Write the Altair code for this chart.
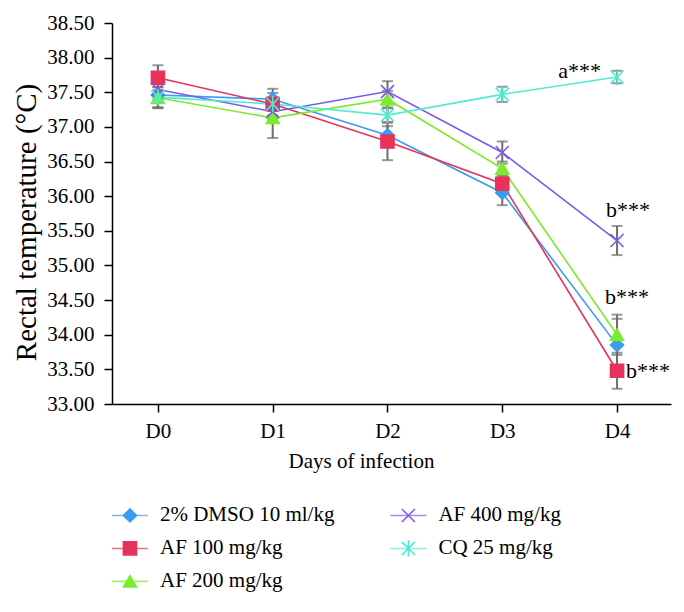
import altair as alt
import pandas as pd

# ---------------- data ----------------
days = ["D0", "D1", "D2", "D3", "D4"]
series = ["2% DMSO 10 ml/kg", "AF 100 mg/kg", "AF 200 mg/kg", "AF 400 mg/kg", "CQ 25 mg/kg"]

dmso_mean = [37.46, 37.40, 36.88, 36.05, 33.85]
af100_mean = [37.71, 37.33, 36.79, 36.18, 33.48]
af200_mean = [37.42, 37.13, 37.40, 36.40, 34.00]
af400_mean = [37.54, 37.22, 37.51, 36.63, 35.36]
cq_mean = [37.43, 37.33, 37.17, 37.47, 37.72]

dmso_err = [0.18, 0.15, 0.13, 0.18, 0.38]
af100_err = [0.18, 0.16, 0.27, 0.10, 0.26]
af200_err = [0.15, 0.29, 0.12, 0.10, 0.29]
af400_err = [0.14, 0.10, 0.15, 0.16, 0.21]
cq_err = [0.15, 0.10, 0.10, 0.11, 0.09]

y_ticks = [33.0, 33.5, 34.0, 34.5, 35.0, 35.5, 36.0, 36.5, 37.0, 37.5, 38.0, 38.5]

means = [dmso_mean, af100_mean, af200_mean, af400_mean, cq_mean]
errs = [dmso_err, af100_err, af200_err, af400_err, cq_err]

# significance labels: text, series it sits beside, day
annot_text = ["a***", "b***", "b***", "b***"]
annot_series = ["CQ 25 mg/kg", "AF 400 mg/kg", "AF 200 mg/kg", "AF 100 mg/kg"]
annot_day = ["D4", "D4", "D4", "D4"]

# legend layout (column-major as in the figure)
legend_col = [0, 0, 0, 1, 1]
legend_row = [0, 1, 2, 0, 1]

# ---------------- styling ----------------
colors = ["#3b9cf0", "#e8325a", "#7aec2c", "#7b5ae8", "#4decd0"]
shapes = [
    "diamond",
    "square",
    "triangle-up",
    "M-1,-1L1,1M-1,1L1,-1",
    "M-1,-1L1,1M-1,1L1,-1M0,-1.25V1.25",
]
FONT = "Liberation Serif"
ERR_COLOR = "#6e6e6e"

rows = []
for s, m, e in zip(series, means, errs):
    for i, d in enumerate(days):
        rows.append({"series": s, "day": d, "idx": i, "mean": m[i],
                     "lo": m[i] - e[i], "hi": m[i] + e[i]})
df = pd.DataFrame(rows)

color_scale = alt.Scale(domain=series, range=colors)
shape_scale = alt.Scale(domain=series, range=shapes)

x_scale = alt.Scale(domain=[-0.4, 4.47], nice=False, zero=False)
x_axis = alt.Axis(values=list(range(len(days))),
                  labelExpr="['" + "','".join(days) + "'][datum.value]",
                  title="Days of infection", titleX=249, titleY=46,
                  labelPadding=8, tickSize=8, grid=False)
y_scale = alt.Scale(domain=[33.0, 38.5], nice=False, zero=False)
y_axis = alt.Axis(values=y_ticks, format=".2f", labelOverlap=False, tickCount=12,
                  title="Rectal temperature (°C)", titleFontSize=29, titlePadding=5,
                  titleY=199, labelPadding=10, tickSize=8, grid=False)


def X(field):
    return alt.X(field, scale=x_scale, axis=x_axis)


def Y(field):
    return alt.Y(field, scale=y_scale, axis=y_axis)


base = alt.Chart(df)

lines = base.mark_line(strokeWidth=1.6).encode(
    x=X("idx:Q"),
    y=Y("mean:Q"),
    color=alt.Color("series:N", scale=color_scale, legend=None),
    detail="series:N",
)

err_rule = base.mark_rule(color=ERR_COLOR, strokeWidth=2).encode(
    x=X("idx:Q"), y=Y("lo:Q"), y2="hi:Q")
cap_lo = base.mark_tick(color=ERR_COLOR, thickness=2, size=11, orient="horizontal").encode(
    x=X("idx:Q"), y=Y("lo:Q"))
cap_hi = base.mark_tick(color=ERR_COLOR, thickness=2, size=11, orient="horizontal").encode(
    x=X("idx:Q"), y=Y("hi:Q"))

points = base.mark_point(filled=True, size=170, opacity=1, strokeWidth=1.6).encode(
    x=X("idx:Q"),
    y=Y("mean:Q"),
    color=alt.Color("series:N", scale=color_scale, legend=None),
    stroke=alt.Stroke("series:N", scale=color_scale, legend=None),
    shape=alt.Shape("series:N", scale=shape_scale, legend=None),
)

# annotations
annot_offsets = [(-16, -6, "right"), (-11, -31, "left"), (-12, -38, "left"), (9, 0, "left")]
annot_layers = []
for t, s, d, (dx, dy, al) in zip(annot_text, annot_series, annot_day, annot_offsets):
    sub = df[(df.series == s) & (df.day == d)].assign(label=t)
    annot_layers.append(
        alt.Chart(sub).mark_text(font=FONT, fontSize=22, align=al, baseline="middle",
                                 dx=dx, dy=dy, color="black").encode(
            x=X("idx:Q"), y=Y("mean:Q"), text="label:N"))

main = alt.layer(lines, err_rule, cap_lo, cap_hi, points, *annot_layers).properties(
    width=559, height=381)

# manual legend (line + symbol + label)
leg_df = pd.DataFrame({"series": series, "col": legend_col, "row": legend_row})
lx = alt.X("col:Q", scale=alt.Scale(domain=[-0.0645, 1.943], nice=False, zero=False), axis=None)
ly = alt.Y("row:Q", scale=alt.Scale(domain=[-0.56, 2.17], nice=False, zero=False, reverse=True),
           axis=None)
leg_base = alt.Chart(leg_df)
leg_line = leg_base.mark_tick(orient="horizontal", size=36, thickness=1.6).encode(
    x=lx, y=ly, color=alt.Color("series:N", scale=color_scale, legend=None))
leg_pt = leg_base.mark_point(filled=True, size=170, opacity=1, strokeWidth=1.6).encode(
    x=lx, y=ly,
    color=alt.Color("series:N", scale=color_scale, legend=None),
    stroke=alt.Stroke("series:N", scale=color_scale, legend=None),
    shape=alt.Shape("series:N", scale=shape_scale, legend=None))
leg_txt = leg_base.mark_text(font=FONT, fontSize=21, align="left", baseline="middle",
                             dx=30, color="black").encode(x=lx, y=ly, text="series:N")
legend = alt.layer(leg_line, leg_pt, leg_txt).properties(width=559, height=90)

chart = alt.vconcat(main, legend, spacing=26).properties(
    padding={"left": 4, "top": 4, "right": 5, "bottom": 0}
).configure_view(stroke=None).configure_axis(
    labelFont=FONT, titleFont=FONT, labelFontSize=21, titleFontSize=21,
    labelColor="black", titleColor="black", titleFontWeight="normal",
    domainColor="black", tickColor="black", domainWidth=1.5, tickWidth=1.5,
    labelOverlap=False,
)

chart.save("out.html", embed_options={"renderer": "svg", "actions": False})
